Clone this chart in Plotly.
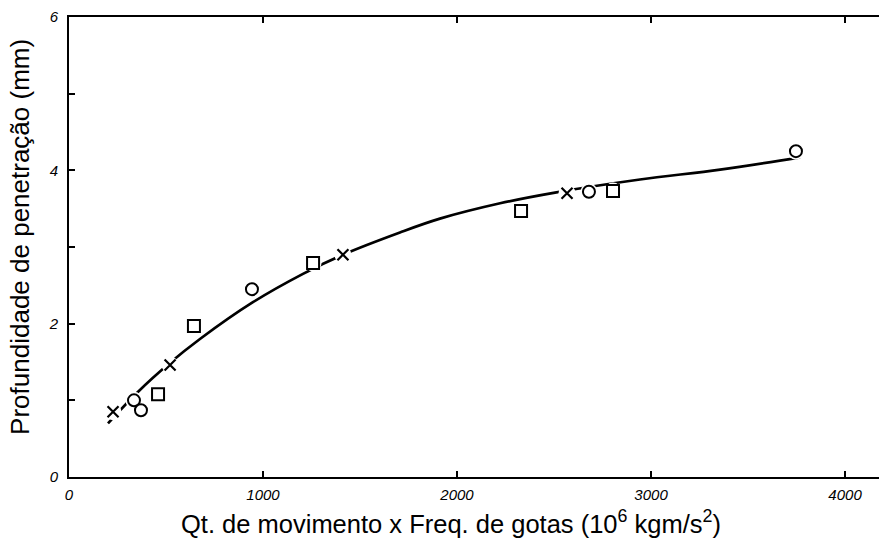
import plotly.graph_objects as go

# Data
cross_x = [227, 521, 1412, 2567]
cross_y = [0.85, 1.46, 2.90, 3.70]
circle_x = [335, 371, 943, 2680, 3747]
circle_y = [1.00, 0.87, 2.45, 3.72, 4.25]
square_x = [459, 644, 1258, 2330, 2804]
square_y = [1.08, 1.97, 2.79, 3.47, 3.73]
curve_x = [201, 351, 521, 675, 948, 1206, 1412, 1706, 1912, 2222, 2505, 2943, 3356, 3768]
curve_y = [0.70, 1.10, 1.49, 1.80, 2.28, 2.65, 2.90, 3.19, 3.37, 3.57, 3.71, 3.88, 4.01, 4.17]

x_ticks = [0, 1000, 2000, 3000, 4000]
x_ticklabels = ["0", "1000", "2000", "3000", "4000"]
y_ticks = [0, 2, 4, 6]
y_ticklabels = ["0", "2", "4", "6"]
y_minor_ticks = [1, 3, 5]

fig = go.Figure()
fig.add_trace(go.Scatter(x=curve_x, y=curve_y, mode="lines",
                         line=dict(color="black", width=2.7, shape="spline", smoothing=1.0),
                         hoverinfo="skip", showlegend=False))
# white halos so the curve is interrupted around the markers
all_x = cross_x + circle_x + square_x
all_y = cross_y + circle_y + square_y
fig.add_trace(go.Scatter(x=all_x, y=all_y, mode="markers",
                         marker=dict(symbol="circle", size=17, color="white", line=dict(width=0)),
                         hoverinfo="skip", showlegend=False))
fig.add_trace(go.Scatter(x=cross_x, y=cross_y, mode="markers",
                         marker=dict(symbol="x-thin", size=11, color="black",
                                     line=dict(color="black", width=2.2)),
                         showlegend=False))
fig.add_trace(go.Scatter(x=circle_x, y=circle_y, mode="markers",
                         marker=dict(symbol="circle", size=12, color="white",
                                     line=dict(color="black", width=2)),
                         showlegend=False))
fig.add_trace(go.Scatter(x=square_x, y=square_y, mode="markers",
                         marker=dict(symbol="square", size=12, color="white",
                                     line=dict(color="black", width=2)),
                         showlegend=False))

tickfont = dict(family="Liberation Sans", size=15, color="black", style="italic")
fig.update_xaxes(range=[0, 4175], tickvals=x_ticks, ticktext=x_ticklabels,
                 ticks="inside", ticklen=6, tickwidth=1.5, tickcolor="black",
                 showline=True, linecolor="black", linewidth=2, mirror="ticks",
                 showgrid=False, zeroline=False, tickfont=tickfont, ticklabelstandoff=3)
fig.update_yaxes(range=[0, 6], tickvals=y_ticks, ticktext=y_ticklabels,
                 ticks="inside", ticklen=6, tickwidth=1.5, tickcolor="black",
                 minor=dict(tickvals=y_minor_ticks, ticks="inside", ticklen=6,
                            tickwidth=1.5, tickcolor="black", showgrid=False),
                 showline=True, linecolor="black", linewidth=2, mirror=False,
                 showgrid=False, zeroline=False, tickfont=tickfont, ticklabelstandoff=6)

fig.add_annotation(text="Qt. de movimento x Freq. de gotas (10<sup>6</sup> kgm/s<sup>2</sup>)",
                   xref="paper", yref="paper", x=0.4716, y=-0.098, xanchor="center",
                   yanchor="middle", showarrow=False,
                   font=dict(family="Liberation Sans", size=25.5, color="black"))
fig.add_annotation(text="Profundidade de penetração (mm)", textangle=-90,
                   xref="paper", yref="paper", x=-0.0605, y=0.522, xanchor="center",
                   yanchor="middle", showarrow=False,
                   font=dict(family="Liberation Sans", size=26, color="black"))

fig.update_layout(width=879, height=541, margin=dict(l=69, r=0, t=17, b=64),
                  plot_bgcolor="white", paper_bgcolor="white")
fig.write_html("out.html", config={"displayModeBar": False},
               post_script="document.body.style.margin='0px';")
